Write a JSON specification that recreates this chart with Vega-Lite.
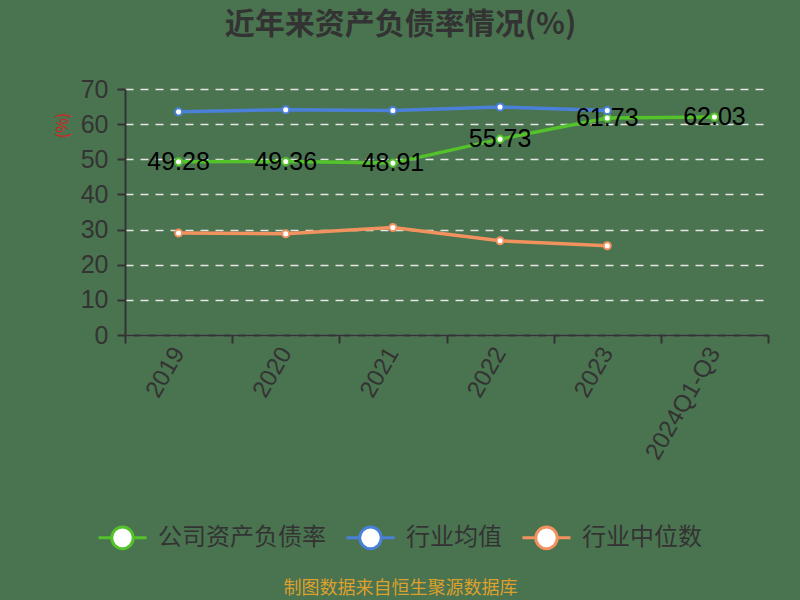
{
  "$schema": "https://vega.github.io/schema/vega-lite/v6.json",
  "width": 643,
  "height": 246,
  "autosize": {"type": "none"},
  "padding": {"left": 125, "top": 89, "right": 32, "bottom": 265},
  "background": "#4a7350",
  "view": {"stroke": null},
  "title": {
    "text": "近年来资产负债率情况(%)",
    "frame": "group",
    "anchor": "middle",
    "dx": -46,
    "offset": 37,
    "fontSize": 30,
    "fontWeight": "bold",
    "font": "Noto Sans CJK SC",
    "color": "#333333"
  },
  "config": {
    "font": "Noto Sans CJK SC",
    "legend": {"labelFont": "Noto Sans CJK SC"}
  },
  "data": {
    "values": [
      {"year": "2019", "series": "公司资产负债率", "value": 49.28},
      {"year": "2020", "series": "公司资产负债率", "value": 49.36},
      {"year": "2021", "series": "公司资产负债率", "value": 48.91},
      {"year": "2022", "series": "公司资产负债率", "value": 55.73},
      {"year": "2023", "series": "公司资产负债率", "value": 61.73},
      {"year": "2024Q1-Q3", "series": "公司资产负债率", "value": 62.03},
      {"year": "2019", "series": "行业均值", "value": 63.5},
      {"year": "2020", "series": "行业均值", "value": 64.1},
      {"year": "2021", "series": "行业均值", "value": 63.9},
      {"year": "2022", "series": "行业均值", "value": 64.9},
      {"year": "2023", "series": "行业均值", "value": 63.9},
      {"year": "2019", "series": "行业中位数", "value": 29.0},
      {"year": "2020", "series": "行业中位数", "value": 28.8},
      {"year": "2021", "series": "行业中位数", "value": 30.6},
      {"year": "2022", "series": "行业中位数", "value": 26.8},
      {"year": "2023", "series": "行业中位数", "value": 25.4}
    ]
  },
  "encoding": {
    "x": {
      "field": "year",
      "type": "nominal",
      "sort": ["2019", "2020", "2021", "2022", "2023", "2024Q1-Q3"],
      "bandPosition": 0.5,
      "scale": {"type": "band", "paddingInner": 0, "paddingOuter": 0},
      "axis": {
        "title": "制图数据来自恒生聚源数据库",
        "titleX": 275,
        "titleY": 253,
        "titleAlign": "center",
        "titleBaseline": "middle",
        "titleColor": "#dca12c",
        "titleFontSize": 18,
        "titleFontWeight": "normal",
        "labelAngle": -60,
        "labelAlign": "right",
        "labelBaseline": "middle",
        "labelFontSize": 24,
        "labelFont": "Liberation Sans",
        "labelColor": "#333333",
        "labelPadding": 6,
        "tickBand": "extent",
        "tickSize": 8,
        "tickColor": "#333333",
        "tickWidth": 2,
        "domainColor": "#333333",
        "domainWidth": 2,
        "grid": false
      }
    },
    "y": {
      "field": "value",
      "type": "quantitative",
      "scale": {"domain": [0, 70], "nice": false},
      "axis": {
        "title": "(%)",
        "titleColor": "#d42222",
        "titleFontSize": 16,
        "titleFontWeight": "normal",
        "titleX": -63,
        "titleY": 36,
        "titleAlign": "center",
        "titleBaseline": "middle",
        "values": [0, 10, 20, 30, 40, 50, 60, 70],
        "labelFontSize": 25,
        "labelFont": "Liberation Sans",
        "labelColor": "#333333",
        "labelPadding": 9,
        "tickSize": 8,
        "tickColor": "#333333",
        "tickWidth": 2,
        "domainColor": "#333333",
        "domainWidth": 2,
        "gridColor": "#e6e6e6",
        "gridDash": [8, 7],
        "gridWidth": 1.5
      }
    }
  },
  "layer": [
    {
      "mark": {"type": "line", "strokeWidth": 3.5},
      "encoding": {
        "stroke": {
          "field": "series",
          "type": "nominal",
          "scale": {
            "domain": ["公司资产负债率", "行业均值", "行业中位数"],
            "range": ["#53c22b", "#4a80d8", "#f2925e"]
          },
          "legend": {
            "title": null,
            "orient": "none",
            "direction": "horizontal",
            "legendX": -28,
            "legendY": 423,
            "symbolType": "M-1,0H-0.45M0.45,0H1M-0.45,0A0.45,0.45 0 1,1 0.45,0A0.45,0.45 0 1,1 -0.45,0Z",
            "symbolSize": 2304,
            "symbolFillColor": "white",
            "symbolStrokeWidth": 3,
            "labelFontSize": 24,
            "labelColor": "#333333",
            "labelOffset": 10,
            "columnPadding": 14,
            "labelLimit": 300
          }
        }
      }
    },
    {
      "mark": {"type": "point", "filled": false, "fill": "white", "fillOpacity": 1, "size": 50, "strokeWidth": 2, "opacity": 1},
      "encoding": {
        "stroke": {"field": "series", "type": "nominal"}
      }
    },
    {
      "transform": [{"filter": "datum.series === '公司资产负债率'"}],
      "mark": {"type": "text", "fontSize": 25, "color": "black", "font": "Liberation Sans", "align": "center", "baseline": "middle"},
      "encoding": {
        "text": {"field": "value", "type": "quantitative", "format": ".2f"}
      }
    }
  ]
}
